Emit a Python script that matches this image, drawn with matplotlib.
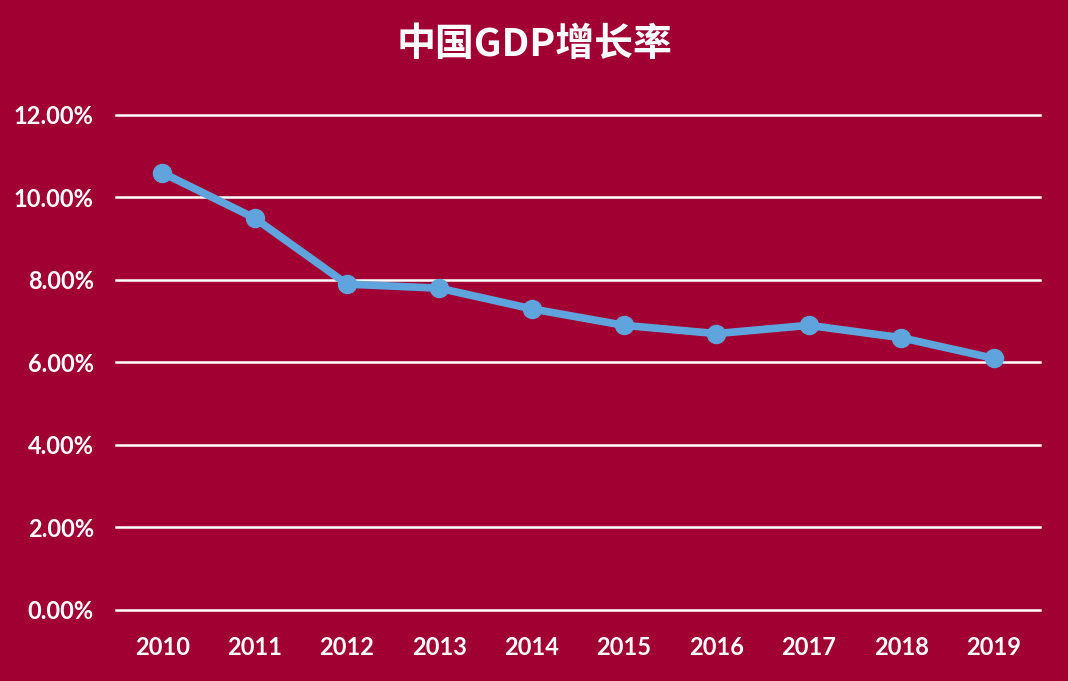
import matplotlib.pyplot as plt
from matplotlib.ticker import FuncFormatter

years = ['2010', '2011', '2012', '2013', '2014', '2015', '2016', '2017', '2018', '2019']
gdp_growth = [10.6, 9.5, 7.9, 7.8, 7.3, 6.9, 6.7, 6.9, 6.6, 6.1]
yticks = [0, 2, 4, 6, 8, 10, 12]

bg = '#A00032'
line_color = '#5FA4DD'

plt.rcParams['font.family'] = ['Lato', 'Noto Sans CJK SC', 'DejaVu Sans']

fig = plt.figure(figsize=(10.68, 6.81), dpi=100, facecolor=bg)
ax = fig.add_axes([0.1086, 0.1043, 0.865, 0.7269], facecolor=bg)

x = range(len(years))
ax.plot(x, gdp_growth, color=line_color, linewidth=5.5, marker='o', markersize=13, zorder=3)

for t in yticks:
    ax.axhline(t, color='white', linewidth=1.8, clip_on=False, zorder=1)

ax.set_xlim(-0.5, len(years) - 0.5)
ax.set_ylim(0, 12)
ax.set_yticks(yticks)
ax.yaxis.set_major_formatter(FuncFormatter(lambda v, p: f'{v:.2f}%'))
ax.set_xticks(list(x))
ax.set_xticklabels(years)

for s in ax.spines.values():
    s.set_visible(False)
ax.tick_params(axis='both', length=0, colors='white', labelsize=17)
ax.tick_params(axis='y', pad=16)
ax.tick_params(axis='x', pad=19)
for lab in ax.get_xticklabels() + ax.get_yticklabels():
    lab.set_fontweight('bold')

fig.text(0.5, 0.934, '中国GDP增长率', ha='center', va='center', color='white',
         fontsize=28, fontweight='bold', family=['Noto Sans CJK SC', 'DejaVu Sans'])

fig.savefig('out.png', dpi=100, facecolor=bg)
